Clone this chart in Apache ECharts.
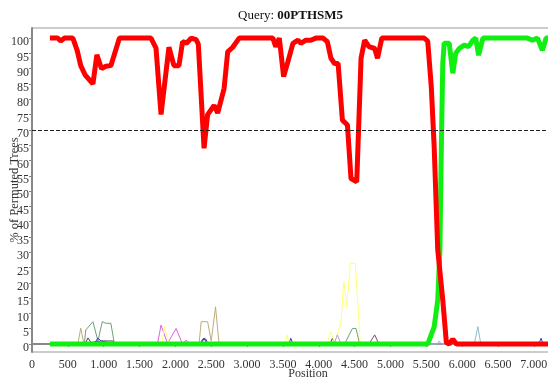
<!DOCTYPE html>
<html>
<head>
<meta charset="utf-8">
<script src="https://cdn.jsdelivr.net/npm/echarts@6/dist/echarts.min.js"></script>
<style>
  html, body { margin: 0; padding: 0; background: #fff; }
  #chart { width: 548px; height: 379px; }
</style>
</head>
<body>
<div id="chart"></div>
<script>
// values: [position, % of permuted trees]
var redLine = [
    [250, 100], [360, 100], [400, 99], [450, 100], [570, 100], [630, 96], [680, 91], [740, 88],
    [850, 85], [905, 94.5], [970, 90], [1030, 90.8], [1100, 91], [1220, 100], [1660, 100],
    [1730, 96.7], [1800, 75], [1910, 97], [1980, 91], [2050, 91], [2100, 98.8], [2160, 98.4],
    [2220, 100], [2290, 99.5], [2320, 98], [2400, 64], [2450, 75], [2540, 78], [2590, 75.5],
    [2680, 83.6], [2730, 95.5], [2800, 97], [2820, 96.8], [2890, 100], [3360, 100], [3400, 97.2],
    [3450, 100], [3510, 87.4], [3570, 92.3], [3640, 98.3], [3710, 99.3], [3750, 98.3], [3820, 99.3],
    [3890, 99.3], [3960, 100], [4060, 100], [4120, 98.8], [4170, 93.4], [4220, 91.7], [4270, 91.7],
    [4330, 73.2], [4400, 71.6], [4450, 54.1], [4530, 53], [4590, 93.4], [4640, 99.3], [4700, 97.2],
    [4780, 96.6], [4820, 93.4], [4880, 100], [5470, 100], [5520, 99], [5570, 84], [5610, 64.5],
    [5660, 30.7], [5730, 14.4], [5780, 0.5], [5820, 0], [5870, 1.6], [5920, 0], [7300, 0]
];
var greenLine = [
    [250, 0], [5520, 0], [5610, 5.6], [5660, 14.4], [5690, 30.7], [5710, 64.5], [5730, 91.7],
    [5750, 98.3], [5820, 98.3], [5870, 88.5], [5910, 95], [5960, 96.6], [6030, 97.7], [6090, 97.2],
    [6150, 99.3], [6190, 100], [6230, 94.4], [6290, 100], [6910, 100], [6980, 99.3], [7050, 100],
    [7120, 96], [7170, 100], [7300, 100]
];
var oliveLine = [
    [250, 0], [640, 0], [680, 5.2], [720, 0.5], [2330, 0], [2360, 7.3], [2450, 7.3], [2500, 1],
    [2560, 12.2], [2610, 0], [7300, 0]
];
var sageLine = [
    [250, 0], [730, 0], [750, 4.6], [850, 7.3], [920, 1], [980, 7.3], [1030, 6.8], [1100, 6.8],
    [1150, 0], [4360, 0], [4470, 5.1], [4520, 5.1], [4570, 0], [7300, 0]
];
var blueLine = [
    [250, 0], [865, 0], [920, 2], [963, 1], [1030, 0.7], [1100, 0], [2345, 0], [2380, 1.6],
    [2427, 1.6], [2455, 0], [3585, 0], [3610, 1.9], [3640, 0], [7072, 0], [7100, 1.9], [7130, 0], [7300, 0]
];
var navyLine = [
    [250, 0], [740, 0], [780, 2], [823, 0.5], [960, 1], [1130, 1], [1170, 0], [2360, 0], [2400, 2],
    [2440, 0], [4157, 0], [4190, 1.9], [4227, 0], [7300, 0]
];
var magentaLine = [
    [250, 0], [1750, 0], [1800, 6.2], [1890, 0.2], [2010, 5.1], [2100, 0], [2150, 1.3], [2190, 0], [7300, 0]
];
var yellowLine = [
    [250, 0], [1813, 0], [1850, 5.7], [1897, 1], [1940, 0], [3530, 0], [3560, 3], [3585, 0],
    [4120, 0.5], [4170, 4], [4217, 0.5], [4310, 6.8], [4350, 20.4], [4390, 12.2], [4440, 26.4],
    [4510, 26.4], [4580, 0], [7300, 0]
];
var purpleLine = [[250, 0], [4700, 0], [4780, 3], [4840, 0], [7300, 0]];
var violetLine = [[250, 0], [4213, 0], [4260, 3], [4310, 0], [5650, 0], [5680, 1], [5710, 0], [7300, 0]];
var lightBlueLine = [[250, 0], [6170, 0], [6220, 5.7], [6260, 0], [7300, 0]];

var yTicks = [0, 5, 10, 15, 20, 25, 30, 35, 40, 45, 50, 55, 60, 65, 70, 75, 80, 85, 90, 95, 100];
var cutoff = 70;

var serif = '"Liberation Serif", "Times New Roman", serif';

function thin(data, color) {
    return {
        type: 'line', data: data, showSymbol: false, silent: true,
        lineStyle: { color: color, width: 1 }, z: 2
    };
}

var chart = echarts.init(document.getElementById('chart'));
var option = {
    animation: false,
    backgroundColor: '#fff',
    title: {
        text: '{a|Query: }{b|00PTHSM5}',
        left: 233, top: 4,
        textStyle: {
            rich: {
                a: { fontFamily: serif, fontSize: 13, color: '#111', fontWeight: 'normal' },
                b: { fontFamily: serif, fontSize: 13, color: '#111', fontWeight: 'bold' }
            }
        }
    },
    grid: {
        left: 32, top: 28, width: 552, bottom: 27,
        outerBoundsMode: 'none', containLabel: false,
        show: true, borderColor: '#999', borderWidth: 1
    },
    xAxis: {
        type: 'value', min: 0, max: 7700, interval: 500,
        name: 'Position', nameLocation: 'middle', nameGap: 16, nameMoveOverlap: false,
        nameTextStyle: { fontFamily: serif, fontSize: 12, color: '#333' },
        splitLine: { show: false },
        axisLine: { lineStyle: { color: '#888', width: 2 } },
        axisTick: { length: 3, lineStyle: { color: '#888' } },
        axisLabel: {
            fontFamily: serif, fontSize: 12, color: '#333', margin: 7,
            formatter: function (v) { return v >= 1000 ? Math.floor(v / 1000) + '.' + ('00' + (v % 1000)).slice(-3) : '' + v; }
        }
    },
    yAxis: {
        type: 'value', min: -2.6, max: 103.3,
        name: '% of Permuted Trees', nameLocation: 'middle', nameGap: 11, nameMoveOverlap: false,
        nameTextStyle: { fontFamily: serif, fontSize: 12.5, color: '#333' },
        splitLine: { show: false },
        axisLine: { lineStyle: { color: '#888', width: 2 } },
        axisTick: { length: 3, customValues: yTicks, lineStyle: { color: '#888' } },
        axisLabel: {
            fontFamily: serif, fontSize: 12, color: '#333', margin: 3,
            customValues: yTicks, verticalAlign: 'top', lineHeight: 8
        }
    },
    series: [
        thin(oliveLine, '#b8ae7c'),
        thin(sageLine, '#6f9f74'),
        thin(blueLine, '#3b3bcc'),
        thin(navyLine, '#404060'),
        thin(magentaLine, '#e060e0'),
        thin(yellowLine, '#ffff70'),
        thin(purpleLine, '#7a4a6a'),
        thin(violetLine, '#b0a0e0'),
        thin(lightBlueLine, '#8cc0c8'),
        {
            type: 'line', data: greenLine, showSymbol: false, z: 3,
            lineStyle: { color: '#11ee11', width: 5 }
        },
        {
            type: 'line', data: redLine, showSymbol: false, z: 4,
            lineStyle: { color: '#ff0000', width: 5 },
            markLine: {
                silent: true, symbol: 'none', label: { show: false },
                lineStyle: { color: '#222', type: 'dashed', width: 1 },
                data: [{ yAxis: cutoff }]
            }
        }
    ]
};
chart.setOption(option);
</script>
</body>
</html>
